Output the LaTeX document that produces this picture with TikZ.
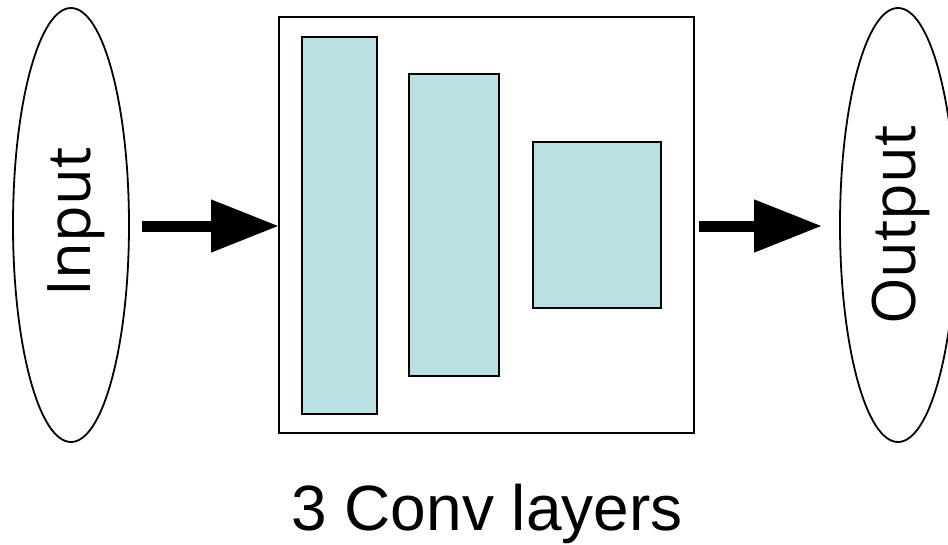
\documentclass[tikz,border=0pt]{standalone}
\usepackage{fontspec}
\setmainfont{Liberation Sans}
\newfontfamily\ioFont{Open Sans}
\usetikzlibrary{shapes.geometric,arrows.meta}
\definecolor{layerfill}{HTML}{BBE0E3}
\tikzset{
  io/.style={ellipse, draw=black, line width=1.8pt, minimum width=116pt, minimum height=434pt, inner sep=0pt},
  iotext/.style={font=\ioFont\fontsize{60}{60}\selectfont, rotate=90, inner sep=0pt},
  frame/.style={draw=black, line width=1.8pt, fill=white},
  layer/.style={draw=black, line width=1.8pt, fill=layerfill},
  flow/.style={line width=11pt, -{Triangle[length=68pt,width=50pt]}},
}
\begin{document}
\begin{tikzpicture}[x=1pt,y=-1pt]
  \useasboundingbox (0,0) rectangle (948,544);
  \node[io] (in) at (71,225) {};
  \node[iotext] (intext) at (76,222) {Input};
  \node[io] (out) at (898,225) {};
  \node[iotext] (outtext) at (901,225) {Output};
  \draw[frame] (279,17) rectangle (694,433);
  \coordinate (boxW) at (279,226);
  \coordinate (boxE) at (694,226);
  \draw[layer] (302,37) rectangle (377,414);
  \draw[layer] (409,74) rectangle (499,376);
  \draw[layer] (533,142) rectangle (661,308);
  \draw[flow, shorten <=12pt] (in.east |- boxW) -- (boxW);
  \draw[flow, shorten <=5pt, shorten >=17pt] (boxE) -- (out.west |- boxE);
  \node[anchor=base, font=\fontsize{64}{64}\selectfont, inner sep=0pt] (caption) at (487,530) {3 Conv layers};
\end{tikzpicture}
\end{document}
